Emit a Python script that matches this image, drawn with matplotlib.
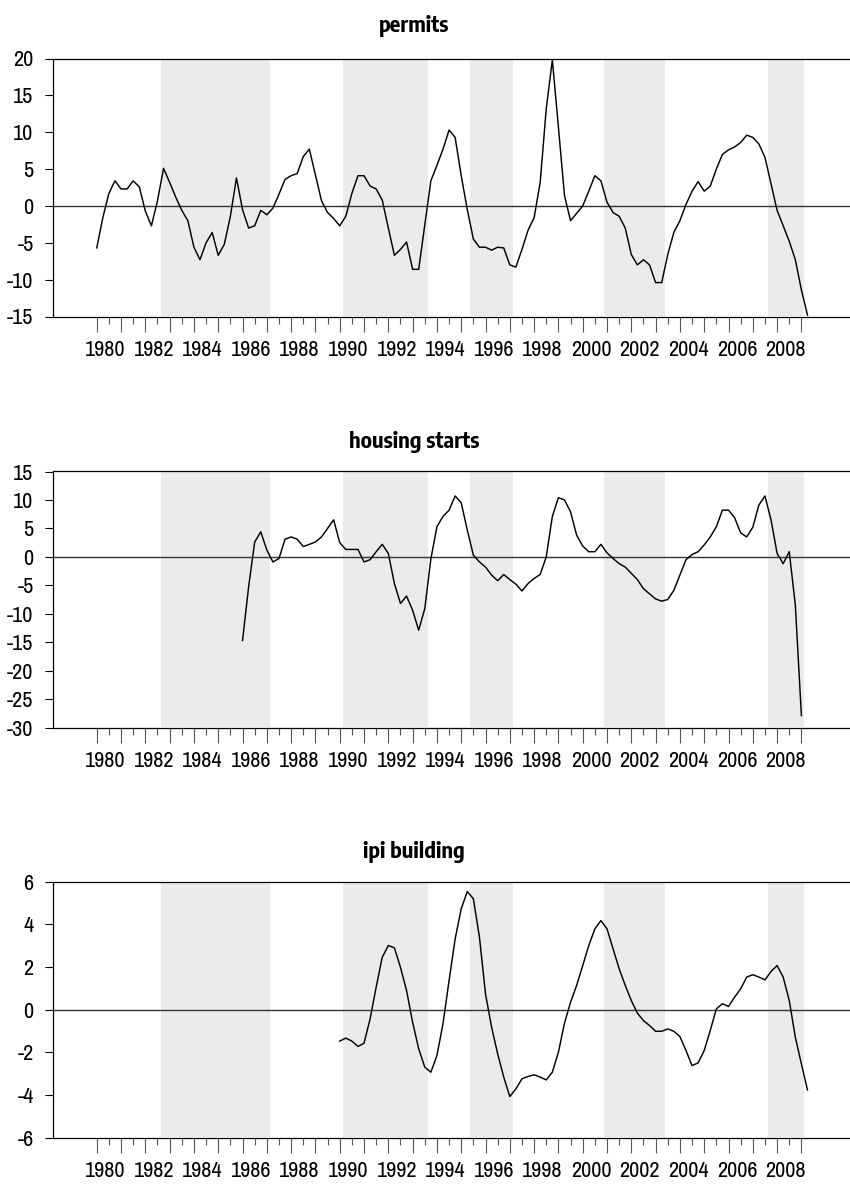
#!/usr/bin/env python3
"""Cyclical components of permits, housing starts and ipi building.

Quarterly series starting 1980Q1, three stacked panels with shaded
periods, EViews-like styling. Writes out.png (850x1191).
"""

import numpy as np
import matplotlib

matplotlib.use("Agg")
import matplotlib.pyplot as plt

FIRST_YEAR = 1980

# offsets are in quarters after 1980Q1
permits_start = 0
permits = [
    -5.7, -1.6, 1.7, 3.4, 2.3, 2.3, 3.4, 2.6, -0.7, -2.7,
    0.7, 5.1, 3.2, 1.2, -0.6, -2.0, -5.6, -7.3, -5.0, -3.6,
    -6.7, -5.2, -1.4, 3.8, -0.5, -3.0, -2.7, -0.6, -1.2, -0.3,
    1.6, 3.6, 4.1, 4.4, 6.7, 7.7, 4.2, 0.7, -0.9, -1.7,
    -2.7, -1.4, 1.7, 4.1, 4.1, 2.7, 2.3, 0.8, -3.0, -6.7,
    -5.9, -4.9, -8.6, -8.6, -2.6, 3.4, 5.5, 7.7, 10.3, 9.3,
    4.1, -0.5, -4.5, -5.6, -5.6, -6.0, -5.6, -5.7, -8.0, -8.3,
    -5.9, -3.3, -1.6, 3.2, 13.2, 19.8, 10.7, 1.4, -2.0, -1.0,
    0.0, 2.0, 4.1, 3.4, 0.5, -0.9, -1.4, -3.0, -6.6, -8.0,
    -7.3, -8.0, -10.4, -10.4, -6.6, -3.6, -2.0, 0.2, 2.0, 3.3,
    2.0, 2.7, 5.0, 7.0, 7.6, 8.0, 8.6, 9.6, 9.3, 8.4,
    6.6, 3.0, -0.6, -2.7, -4.8, -7.3, -11.4, -14.8,
]

housing_start = 24
housing_starts = [
    -14.7, -5.3, 2.6, 4.4, 1.2, -0.9, -0.3, 3.1, 3.5, 3.1,
    1.8, 2.2, 2.6, 3.5, 5.0, 6.5, 2.5, 1.3, 1.3, 1.3,
    -0.9, -0.5, 0.9, 2.2, 0.6, -4.7, -8.2, -6.9, -9.4, -12.9,
    -9.1, -0.4, 5.3, 7.1, 8.2, 10.7, 9.5, 4.7, 0.3, -0.9,
    -1.8, -3.2, -4.2, -3.1, -4.0, -4.8, -6.0, -4.7, -3.8, -3.1,
    0.0, 7.1, 10.4, 10.0, 7.9, 3.8, 1.9, 0.9, 0.9, 2.2,
    0.7, -0.3, -1.2, -1.8, -2.9, -4.0, -5.6, -6.5, -7.4, -7.8,
    -7.5, -5.9, -3.2, -0.5, 0.4, 0.9, 2.1, 3.5, 5.3, 8.2,
    8.2, 6.9, 4.2, 3.5, 5.2, 9.1, 10.7, 6.5, 0.6, -1.2,
    0.9, -8.5, -27.9,
]

ipi_start = 40
ipi_building = [
    -1.48, -1.34, -1.48, -1.73, -1.58, -0.44, 1.05, 2.45, 3.0, 2.89,
    1.98, 0.89, -0.6, -1.84, -2.7, -2.94, -2.16, -0.67, 1.36, 3.31,
    4.72, 5.53, 5.19, 3.39, 0.73, -0.83, -2.08, -3.17, -4.08, -3.72,
    -3.25, -3.14, -3.06, -3.17, -3.30, -2.94, -2.0, -0.64, 0.34, 1.13,
    2.06, 3.0, 3.78, 4.17, 3.78, 2.84, 1.91, 1.13, 0.42, -0.17,
    -0.52, -0.75, -1.02, -1.02, -0.91, -1.02, -1.27, -1.92, -2.63, -2.5,
    -1.92, -0.98, 0.03, 0.27, 0.14, 0.58, 0.97, 1.52, 1.63, 1.52,
    1.39, 1.78, 2.06, 1.52, 0.42, -1.30, -2.55, -3.77,
]

shade_start = [1982.625, 1990.125, 1995.375, 2000.875, 2007.625]
shade_end = [1987.125, 1993.625, 1997.125, 2003.375, 2009.125]

permits_yticks = [-15, -10, -5, 0, 5, 10, 15, 20]
housing_yticks = [-30, -25, -20, -15, -10, -5, 0, 5, 10, 15]
ipi_yticks = [-6, -4, -2, 0, 2, 4, 6]

year_labels = ["1980", "1982", "1984", "1986", "1988", "1990", "1992",
               "1994", "1996", "1998", "2000", "2002", "2004", "2006",
               "2008"]

W, H = 850, 1191
SHADE = "#EBEBEB"
TICK_FONT = ["Archivo Narrow", "DejaVu Sans"]
TITLE_FONT = ["Encode Sans Condensed", "DejaVu Sans"]


def add_axes_px(fig, top, bottom, left=53, right=850):
    return fig.add_axes([left / W, 1 - bottom / H,
                         (right - left) / W, (bottom - top) / H])


def draw_panel(fig, ax, title, start, values, yticks, title_y):
    x = FIRST_YEAR + (start + np.arange(len(values))) / 4.0

    for a, b in zip(shade_start, shade_end):
        ax.axvspan(a, b, color=SHADE, lw=0, zorder=0)
    ax.axhline(0, color="#333333", lw=1.0, zorder=1)
    ax.plot(x, values, color="black", lw=1.05, zorder=2)

    ax.set_xlim(1978.2, 2011.0)
    ax.set_ylim(yticks[0], yticks[-1])

    ax.spines["right"].set_visible(False)
    for side in ("left", "top", "bottom"):
        ax.spines[side].set_linewidth(0.9)

    ax.set_yticks(yticks, labels=[str(v) for v in yticks])
    ax.tick_params(axis="y", direction="out", length=6, width=0.8,
                   pad=8, labelsize=16)

    years = np.arange(1980, 2010)
    ax.set_xticks(years, labels=[""] * len(years))
    ax.set_xticks(years[:-1] + 0.5, minor=True)
    ax.tick_params(axis="x", which="major", direction="out", length=11,
                   width=0.8, color="#555555")
    ax.tick_params(axis="x", which="minor", direction="out", length=5,
                   width=0.8, color="#555555")

    # year labels sit a little right of the year tick, as in EViews
    sec = ax.secondary_xaxis("bottom")
    sec.set_ticks([int(y) + 0.35 for y in year_labels], labels=year_labels)
    sec.tick_params(length=0, pad=17, labelsize=16)
    sec.spines["bottom"].set_visible(False)

    for lab in ax.get_yticklabels() + sec.get_xticklabels():
        lab.set_family(TICK_FONT)

    fig.text(414 / W, 1 - title_y / H, title, ha="center", va="baseline",
             fontsize=16, fontweight="bold", family=TITLE_FONT)


def main():
    plt.rcParams["font.family"] = TICK_FONT

    fig = plt.figure(figsize=(W / 100, H / 100), dpi=100)

    ax1 = add_axes_px(fig, 58.5, 316.5)
    draw_panel(fig, ax1, "permits", permits_start, permits,
               permits_yticks, 32)

    ax2 = add_axes_px(fig, 471.5, 727.5)
    draw_panel(fig, ax2, "housing starts", housing_start, housing_starts,
               housing_yticks, 448)

    ax3 = add_axes_px(fig, 881.5, 1137.5)
    draw_panel(fig, ax3, "ipi building", ipi_start, ipi_building,
               ipi_yticks, 858)

    fig.savefig("out.png", dpi=100)
    plt.close(fig)


if __name__ == "__main__":
    main()
